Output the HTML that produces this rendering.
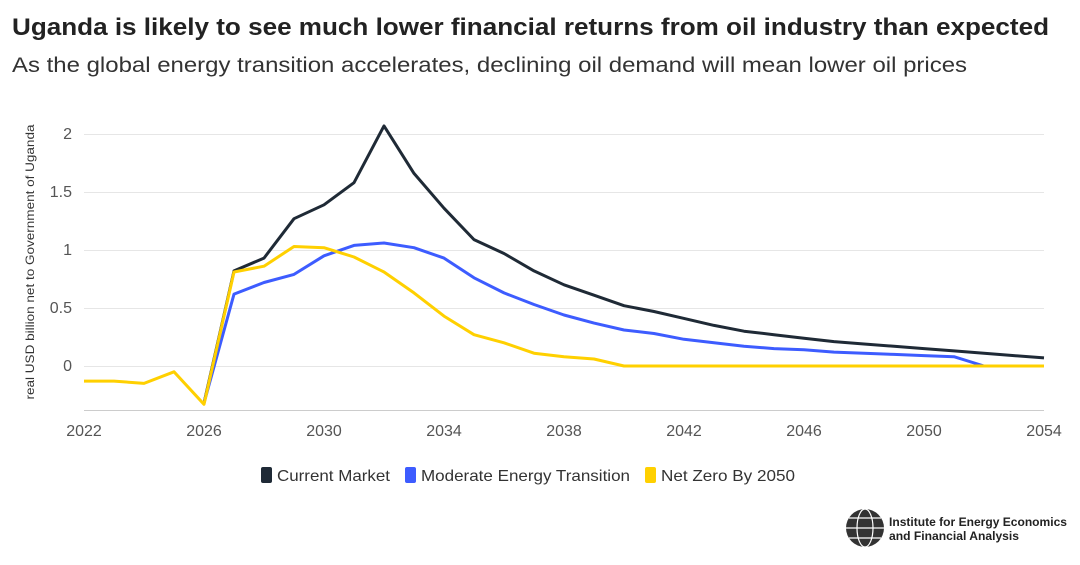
<!DOCTYPE html>
<html><head><meta charset="utf-8"><style>
body{margin:0;background:#fff;width:1080px;height:565px;overflow:hidden;font-family:"Liberation Sans",sans-serif;}
</style></head><body>
<svg width="1080" height="565" style="position:absolute;left:0;top:0" font-family="Liberation Sans, sans-serif">
<text x="12" y="35" font-size="24" font-weight="bold" fill="#222" textLength="1037" lengthAdjust="spacingAndGlyphs">Uganda is likely to see much lower financial returns from oil industry than expected</text>
<text x="12" y="72" font-size="21" fill="#333" textLength="955" lengthAdjust="spacingAndGlyphs">As the global energy transition accelerates, declining oil demand will mean lower oil prices</text>
<g stroke="#e6e6e6" stroke-width="1">
<line x1="84" x2="1044" y1="134.5" y2="134.5"/><line x1="84" x2="1044" y1="192.5" y2="192.5"/>
<line x1="84" x2="1044" y1="250.5" y2="250.5"/><line x1="84" x2="1044" y1="308.5" y2="308.5"/>
<line x1="84" x2="1044" y1="366.5" y2="366.5"/>
</g>
<line x1="84" x2="1044" y1="410.5" y2="410.5" stroke="#ccc"/>
<g font-size="16" fill="#555" text-anchor="end">
<text x="72" y="139">2</text><text x="72" y="197">1.5</text><text x="72" y="255">1</text><text x="72" y="313">0.5</text><text x="72" y="371">0</text>
</g>
<g font-size="16" fill="#555" text-anchor="middle">
<text x="84" y="436">2022</text><text x="204" y="436">2026</text><text x="324" y="436">2030</text><text x="444" y="436">2034</text><text x="564" y="436">2038</text><text x="684" y="436">2042</text><text x="804" y="436">2046</text><text x="924" y="436">2050</text><text x="1044" y="436">2054</text>
</g>
<text transform="translate(34,262) rotate(-90)" font-size="12" fill="#333" text-anchor="middle" textLength="275" lengthAdjust="spacingAndGlyphs">real USD billion net to Government of Uganda</text>
<g fill="none" stroke-width="3" stroke-linejoin="round">
<polyline id="k" stroke="#1f2a36" points=""/>
<polyline id="b" stroke="#3d5cff" points=""/>
<polyline id="y" stroke="#ffd000" points=""/>
</g>
<g font-size="16" fill="#333">
<rect x="261" y="467" width="11" height="16" rx="2" fill="#1f2a36"/><text x="277" y="481" textLength="113" lengthAdjust="spacingAndGlyphs">Current Market</text>
<rect x="405" y="467" width="11" height="16" rx="2" fill="#3d5cff"/><text x="421" y="481" textLength="209" lengthAdjust="spacingAndGlyphs">Moderate Energy Transition</text>
<rect x="645" y="467" width="11" height="16" rx="2" fill="#ffd000"/><text x="661" y="481" textLength="134" lengthAdjust="spacingAndGlyphs">Net Zero By 2050</text>
</g>
<circle cx="865" cy="528" r="19" fill="#333"/>
<g stroke="#fff" stroke-width="1.2" fill="none"><ellipse cx="865" cy="528" rx="8" ry="19"/><line x1="846" x2="884" y1="528" y2="528"/><line x1="849" x2="881" y1="518" y2="518"/><line x1="849" x2="881" y1="538" y2="538"/></g>
<text x="889" y="526" font-size="12" font-weight="bold" fill="#222" textLength="178" lengthAdjust="spacingAndGlyphs">Institute for Energy Economics</text>
<text x="889" y="540" font-size="12" font-weight="bold" fill="#222" textLength="130" lengthAdjust="spacingAndGlyphs">and Financial Analysis</text>
</svg>
<script>
function pts(start,arr){return arr.map((v,i)=>(84+30*(start-2022+i))+","+(366-116*v).toFixed(1)).join(" ");}
var k=[-0.32,0.82,0.93,1.27,1.39,1.58,2.07,1.66,1.36,1.09,0.97,0.82,0.70,0.61,0.52,0.47,0.41,0.35,0.30,0.27,0.24,0.21,0.19,0.17,0.15,0.13,0.11,0.09,0.07];
var b=[-0.32,0.62,0.72,0.79,0.95,1.04,1.06,1.02,0.93,0.76,0.63,0.53,0.44,0.37,0.31,0.28,0.23,0.20,0.17,0.15,0.14,0.12,0.11,0.10,0.09,0.08,0,0,0];
var y=[-0.13,-0.13,-0.15,-0.05,-0.33,0.81,0.86,1.03,1.02,0.94,0.81,0.63,0.43,0.27,0.20,0.11,0.08,0.06,0,0,0,0,0,0,0,0,0,0,0,0,0,0,0];
document.getElementById("k").setAttribute("points",pts(2026,k));
document.getElementById("b").setAttribute("points",pts(2026,b));
document.getElementById("y").setAttribute("points",pts(2022,y));
</script>
</body></html>
